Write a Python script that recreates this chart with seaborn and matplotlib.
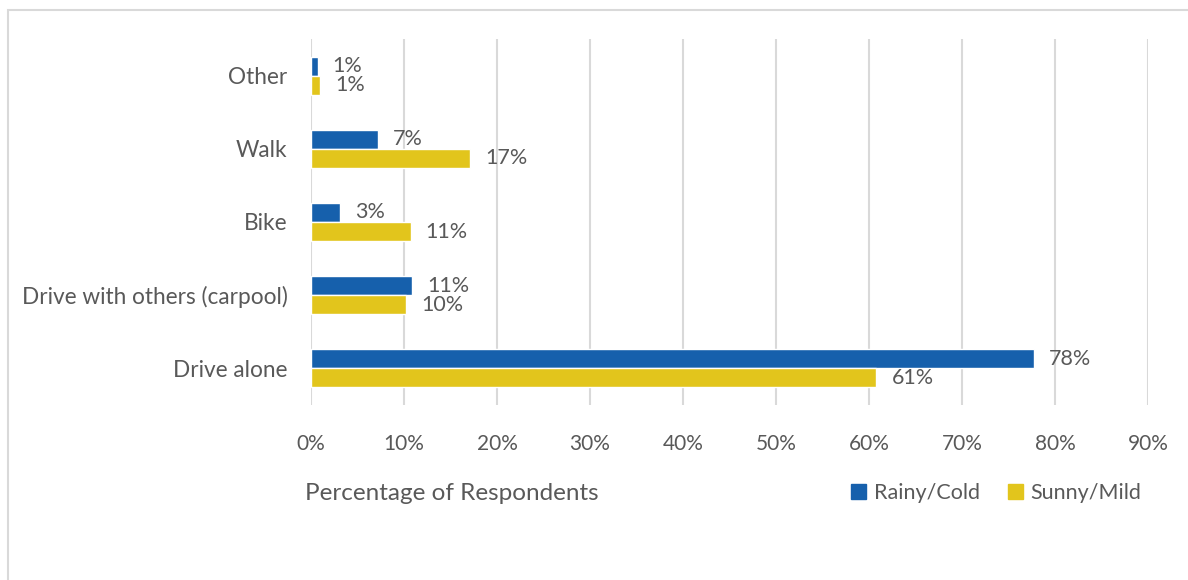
import matplotlib
matplotlib.use("Agg")
import matplotlib.pyplot as plt
import matplotlib.patches as mpatches
import matplotlib.ticker as mticker
import pandas as pd
import seaborn as sns

# Data (fractions of respondents)
modes = ["Other", "Walk", "Bike", "Drive with others (carpool)", "Drive alone"]
rainy_cold = [0.007, 0.072, 0.031, 0.109, 0.777]
sunny_mild = [0.010, 0.171, 0.107, 0.102, 0.608]
series = ["Rainy/Cold", "Sunny/Mild"]
colors = ["#1660AC", "#E2C51C"]
x_ticks = [0.0, 0.1, 0.2, 0.3, 0.4, 0.5, 0.6, 0.7, 0.8, 0.9]

TEXT = "#595959"
GRID = "#D9D9D9"

df = pd.DataFrame({
    "mode": modes * 2,
    "share": rainy_cold + sunny_mild,
    "weather": [series[0]] * len(modes) + [series[1]] * len(modes),
})

sns.set_theme(style="white")
plt.rcParams["font.family"] = ["Lato", "DejaVu Sans"]

fig = plt.figure(figsize=(11.88, 5.8), dpi=100)
ax = fig.add_axes([311 / 1188, 1 - 405 / 580, (1148 - 311) / 1188, (405 - 39) / 580])

sns.barplot(data=df, y="mode", x="share", hue="weather", order=modes,
            hue_order=series, palette=colors, orient="h", width=0.52,
            saturation=1, ax=ax, legend=False)

# data labels
for cont in ax.containers:
    ax.bar_label(cont, labels=[f"{v * 100:.0f}%" for v in cont.datavalues],
                 padding=11, fontsize=15.5, color=TEXT)

ax.set_xlim(0, 0.9)
ax.set_ylim(4.5, -0.5)
ax.set_xticks(x_ticks)
ax.xaxis.set_major_formatter(mticker.PercentFormatter(1.0, decimals=0))
ax.grid(axis="x", color=GRID, linewidth=1.5)
ax.grid(axis="y", visible=False)
ax.set_axisbelow(True)
sns.despine(ax=ax, left=True, bottom=True)
ax.tick_params(axis="x", length=0, pad=21, labelsize=15, labelcolor=TEXT)
ax.tick_params(axis="y", length=0, pad=17, labelsize=16.3, labelcolor=TEXT)
ax.set_xlabel("")
ax.set_ylabel("")

fig.text(305 / 1188, 1 - 493 / 580, "Percentage of Respondents",
         ha="left", va="center", fontsize=17.5, color=TEXT)

handles = [mpatches.Patch(color=c, label=s) for c, s in zip(colors, series)]
fig.legend(handles=handles, loc="center", bbox_to_anchor=(996 / 1188, 1 - 493 / 580),
           ncol=2, frameon=False, fontsize=15.5, labelcolor=TEXT,
           handlelength=0.7, handleheight=0.7, handletextpad=0.35, columnspacing=1.3)

# light chart border
fig.add_artist(mpatches.Rectangle((8 / 1188, -0.5), 2.0, 1.5 - 10 / 580,
                                  transform=fig.transFigure, fill=False,
                                  edgecolor=GRID, linewidth=1.5))

fig.savefig("out.png", dpi=100)
